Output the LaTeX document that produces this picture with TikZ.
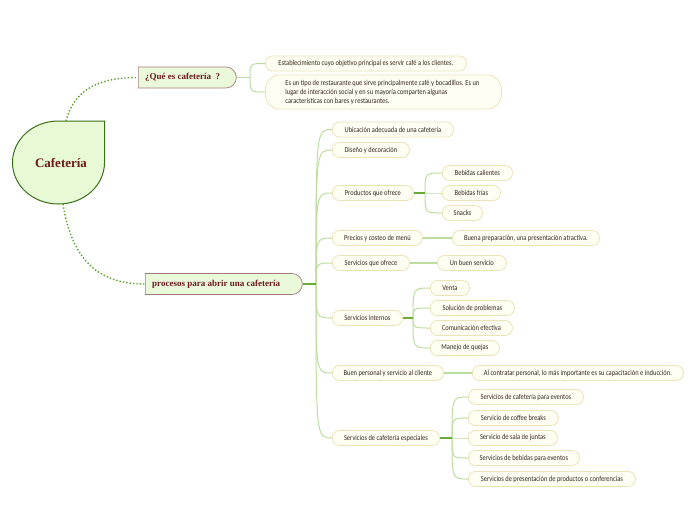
\documentclass[tikz,border=0pt]{standalone}
\usepackage{fontspec}
\setmainfont{Carlito}[FakeStretch=0.85]
\newfontfamily\ttlfont{Liberation Serif}
\usetikzlibrary{shapes.misc}
\definecolor{leaffill}{HTML}{FFFEF2}
\definecolor{leafdraw}{HTML}{EDE2B8}
\definecolor{leaftext}{HTML}{33261F}
\definecolor{branchfill}{HTML}{EAF9DA}
\definecolor{branchdraw}{HTML}{A47C7C}
\definecolor{rootfill}{HTML}{E7F9D5}
\definecolor{rootdraw}{HTML}{3C6E17}
\definecolor{ttl}{HTML}{6E1A1A}
\definecolor{dotc}{HTML}{5DA02C}
\definecolor{thickc}{HTML}{6AAA37}
\definecolor{thinc}{HTML}{BCDDA0}
\tikzset{
 leaf/.style={draw=leafdraw, fill=leaffill, rounded corners=7pt, minimum height=15pt, inner sep=0pt, font=\fontsize{7.6}{9}\selectfont, text=leaftext, anchor=west, line width=0.8pt},
 branchbox/.style={rounded rectangle, rounded rectangle west arc=none, draw=branchdraw, fill=branchfill, minimum height=21pt, anchor=west, line width=0.7pt, inner sep=0pt},
 branchtext/.style={font=\ttlfont\bfseries\fontsize{9}{11}\selectfont, text=ttl, anchor=west, inner sep=0pt},
 thinline/.style={draw=thinc, line width=1pt},
 flatline/.style={draw=thinc, line width=2pt},
 thickline/.style={draw=thickc, line width=1.6pt},
 dotline/.style={draw=dotc, line width=1.4pt, dotted},
}
\begin{document}
\begin{tikzpicture}[x=1pt,y=-1pt]
\useasboundingbox (0,0) rectangle (696,520);
% root
\path[fill=rootfill, draw=rootdraw, line width=1pt] (104.5,121) -- (104.5,162.5) .. controls (104.5,185.4) and (84.2,204) .. (58.5,204) .. controls (32.8,204) and (12.5,185.4) .. (12.5,162.5) .. controls (12.5,139.6) and (32.8,121) .. (58.5,121) -- cycle;
\node[font=\ttlfont\bfseries\fontsize{13}{15}\selectfont, text=ttl, inner sep=0pt] (root) at (61,163) {Cafetería};
\coordinate (rtop) at (66,121);
\coordinate (rbot) at (63,204);
% main branches
\node[branchbox, minimum width=98pt] (q) at (138,77.5) {};
\node[branchtext] (qt) at (145,77.5) {¿Qué es cafetería~ ?};
\node[branchbox, minimum width=157pt] (p) at (145,284) {};
\node[branchtext] (pt) at (152,284) {procesos para abrir una cafetería};
\draw[dotline] (rtop) .. controls (74,90) and (98,77.5) .. (q.west);
\draw[dotline] (rbot) .. controls (72,260) and (98,284) .. (p.west);
% que es leaves
\node[leaf, minimum width=201pt] (l1) at (265,63.5) {Establecimiento cuyo objetivo principal es servir café a los clientes.};
\node[leaf, rounded corners=14pt, minimum height=34pt, inner xsep=20pt, text width=196pt, align=flush left] (l2) at (265,92) {Es un tipo de restaurante que sirve principalmente café y bocadillos. Es un\\lugar de interacción social y en su mayoría comparten algunas\\características con bares y restaurantes.};
\coordinate (qh) at (250,77.5);
\draw[thinline] (q.east) -- (qh);
\draw[thinline] (qh) .. controls (qh |- l1.west) .. (l1.west);
\draw[thinline] (qh) .. controls (qh |- l2.west) .. (l2.west);
% procesos children
\node[leaf, minimum width=121pt] (p1) at (332,129.5) {Ubicación adecuada de una cafetería};
\node[leaf, minimum width=77pt] (p2) at (332,150) {Diseño y decoración};
\node[leaf, minimum width=81pt] (p3) at (332,193) {Productos que ofrece};
\node[leaf, minimum width=70pt] (p3a) at (442,173) {Bebidas calientes};
\node[leaf, minimum width=58pt] (p3b) at (442,193) {Bebidas frías};
\node[leaf, minimum width=40pt] (p3c) at (442,213) {Snacks};
\node[leaf, minimum width=90pt] (p4) at (332,238) {Precios y costeo de menú};
\node[leaf, minimum width=147pt] (p4a) at (452,238) {Buena preparación, una presentación atractiva.};
\node[leaf, minimum width=77pt] (p5) at (332,263) {Servicios que ofrece};
\node[leaf, minimum width=69pt] (p5a) at (437,263) {Un buen servicio};
\node[leaf, minimum width=70pt] (p6) at (332,318) {Servicios internos};
\node[leaf, minimum width=39pt] (p6a) at (430,288) {Venta};
\node[leaf, minimum width=84pt] (p6b) at (430,308) {Solución de problemas};
\node[leaf, minimum width=82pt] (p6c) at (430,328) {Comunicación efectiva};
\node[leaf, minimum width=69pt] (p6d) at (430,348) {Manejo de quejas};
\node[leaf, minimum width=111pt] (p7) at (332,373) {Buen personal y servicio al cliente};
\node[leaf, minimum width=211pt] (p7a) at (472,373) {Al contratar personal, lo más importante es su capacitación e inducción.};
\node[leaf, minimum width=107pt] (p8) at (332,438) {Servicios de cafetería especiales};
\node[leaf, minimum width=115pt] (p8a) at (468,397) {Servicios de cafetería para eventos};
\node[leaf, minimum width=90pt] (p8b) at (468,418) {Servicio de coffee breaks};
\node[leaf, minimum width=89pt] (p8c) at (468,438) {Servicio de sala de juntas};
\node[leaf, minimum width=111pt] (p8d) at (468,458) {Servicios de bebidas para eventos};
\node[leaf, minimum width=167pt] (p8e) at (468,479) {Servicios de presentación de productos o conferencias};
% procesos connectors
\coordinate (ph) at (316,284);
\foreach \c in {p1,p2,p3,p4,p5,p6,p7,p8}{\draw[thinline] (ph) .. controls (ph |- \c.west) .. (\c.west);}
\draw[thickline] (p.east) -- (ph);
\coordinate (h3) at (425,193);
\foreach \c in {p3a,p3b,p3c}{\draw[thinline] (h3) .. controls (h3 |- \c.west) .. (\c.west);}
\draw[thickline] (p3.east) -- (h3);
\draw[flatline] (p4.east) -- (p4a.west);
\draw[flatline] (p5.east) -- (p5a.west);
\coordinate (h6) at (413,318);
\foreach \c in {p6a,p6b,p6c,p6d}{\draw[thinline] (h6) .. controls (h6 |- \c.west) .. (\c.west);}
\draw[thickline] (p6.east) -- (h6);
\draw[flatline] (p7.east) -- (p7a.west);
\coordinate (h8) at (452,438);
\foreach \c in {p8a,p8b,p8c,p8d,p8e}{\draw[thinline] (h8) .. controls (h8 |- \c.west) .. (\c.west);}
\draw[thickline] (p8.east) -- (h8);
\end{tikzpicture}
\end{document}
